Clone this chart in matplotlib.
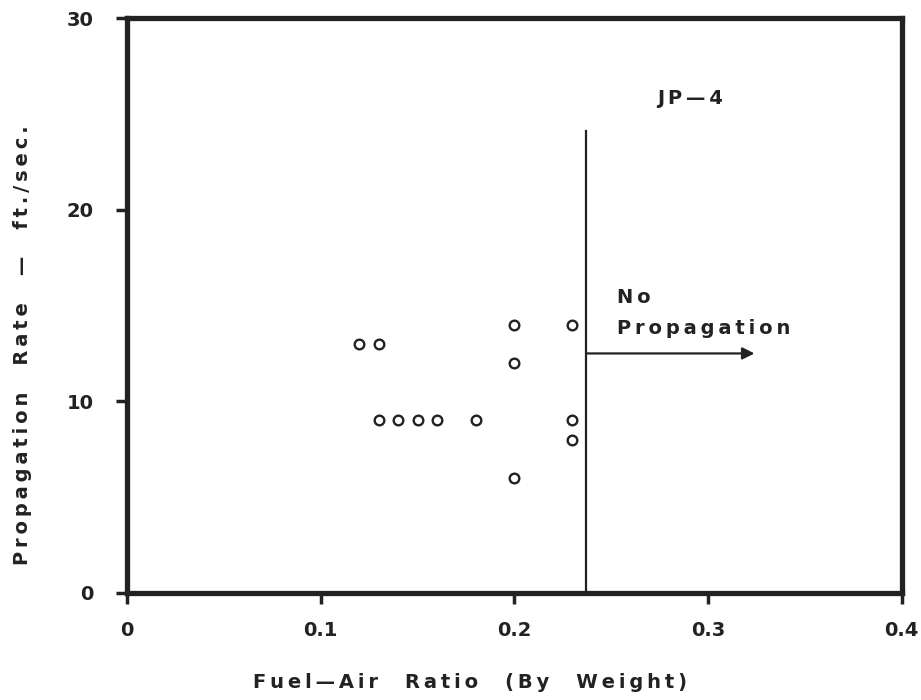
import matplotlib.pyplot as plt

# JP-4 flame propagation test points
fuel_air = [0.12, 0.13, 0.13, 0.14, 0.15, 0.16, 0.18, 0.20, 0.20, 0.20, 0.23, 0.23, 0.23]
rate = [13, 13, 9, 9, 9, 9, 9, 14, 12, 6, 14, 9, 8]

limit_x = 0.237      # no propagation beyond this ratio
limit_top = 24.1
arrow_y = 12.5
arrow_end = 0.324

x_ticks = [0, 0.1, 0.2, 0.3, 0.4]
x_labels = ['0', '0.1', '0.2', '0.3', '0.4']
y_ticks = [0, 10, 20, 30]

INK = '#222222'


def spaced(s):
    # wide letter spacing like the old lettering guides
    return '\u2009'.join(s)


plt.rcParams['font.family'] = 'DejaVu Sans'
plt.rcParams['font.weight'] = 'bold'

fig = plt.figure(figsize=(9.21, 7), dpi=100)
ax = fig.add_axes([0.138, 0.153, 0.841, 0.821])

ax.scatter(fuel_air, rate, s=48, facecolors='white', edgecolors=INK,
           linewidths=1.7, zorder=3)

ax.plot([limit_x, limit_x], [0, limit_top], color=INK, lw=1.6)
ax.annotate('', xy=(arrow_end, arrow_y), xytext=(limit_x, arrow_y),
            arrowprops=dict(arrowstyle='-|>', color=INK, lw=1.6,
                            mutation_scale=18, shrinkA=0, shrinkB=0))

ax.text(0.2906, 25.8, spaced('JP—4'), ha='center', va='center', fontsize=14,
        fontweight='bold', color=INK)
ax.text(0.253, 15.4, spaced('No'), ha='left', va='center', fontsize=14,
        fontweight='bold', color=INK)
ax.text(0.253, 13.8, spaced('Propagation'), ha='left', va='center', fontsize=14,
        fontweight='bold', color=INK)

ax.set_xlim(0, 0.4)
ax.set_ylim(0, 30)
ax.set_xticks(x_ticks)
ax.set_xticklabels(x_labels)
ax.set_yticks(y_ticks)
ax.tick_params(axis='both', direction='out', length=8, width=2.5,
               labelsize=14, colors=INK)
ax.tick_params(axis='x', pad=12)
ax.tick_params(axis='y', pad=16)

for side in ['left', 'right', 'top', 'bottom']:
    ax.spines[side].set_linewidth(3.8)
    ax.spines[side].set_color(INK)

fig.text(0.51, 0.012, spaced('Fuel—Air') + '    ' + spaced('Ratio') + '    ' +
         spaced('(By') + '    ' + spaced('Weight)'),
         ha='center', va='bottom', fontsize=14, fontweight='bold', color=INK)
fig.text(0.024, 0.507, spaced('Propagation') + '    ' + spaced('Rate') +
         '    —    ' + spaced('ft./sec.'),
         ha='center', va='center', rotation=90, fontsize=14, fontweight='bold',
         color=INK)

fig.savefig('out.png', dpi=100, facecolor='white')
